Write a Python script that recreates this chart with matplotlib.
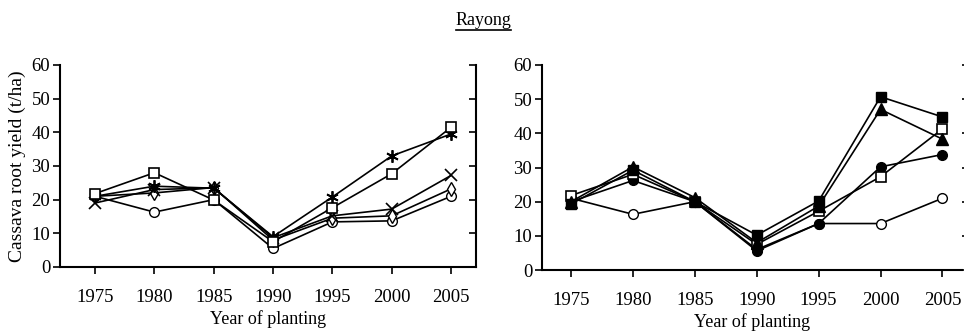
import numpy as np
import matplotlib
matplotlib.use('Agg')
import matplotlib.pyplot as plt

plt.rcParams['font.family'] = ['Liberation Serif', 'DejaVu Serif']

years = [1975, 1980, 1985, 1990, 1995, 2000, 2005]

# left panel
left_circle = [21, 16.3, 20, 5.5, 13.4, 13.7, 21]
left_square = [21.8, 28, 19.9, 7.5, 17.6, 27.7, 41.5]
left_star = [21, 24, 23.4, 9, 20.8, 33, 39.5]
left_x = [19, 23, 23.5, 8.7, 15.2, 17.2, 27.2]
left_diamond = [21, 22, 23.6, 8, 14.5, 15.2, 23.2]

# right panel
right_circle = [21, 16.3, 20, 6, 13.6, 13.6, 21]
right_square = [21.8, 28, 20, 7.5, 17.2, 27.3, 41.3]
right_fsquare = [19.3, 29.2, 20, 10.2, 20.2, 50.7, 44.8]
right_triangle = [20, 30.2, 21.2, 8, 18.7, 47, 38.3]
right_fcircle = [20, 26.2, 20, 5.6, 13.6, 30.2, 33.8]

fig = plt.figure(figsize=(9.64, 3.35), dpi=100)
ax1 = fig.add_axes([0.0622, 0.203, 0.4316, 0.603])
ax2 = fig.add_axes([0.5622, 0.194, 0.436, 0.612])

lw = 1.2
ms = 7

ax1.plot(years, left_circle, color='k', lw=lw, marker='o', ms=ms, mfc='white', mec='k', mew=1)
ax1.plot(years, left_diamond, color='k', lw=lw, marker='d', ms=ms, mfc='white', mec='k', mew=1)
ax1.plot(years, left_x, color='k', lw=lw, marker='x', ms=ms + 1, mec='k', mew=1.2)
ax1.plot(years, left_star, color='k', lw=lw, marker=(6, 2, 0), ms=ms + 2, mec='k', mew=1.3)
ax1.plot(years, left_square, color='k', lw=lw, marker='s', ms=ms, mfc='white', mec='k', mew=1.2)

ax2.plot(years, right_circle, color='k', lw=lw, marker='o', ms=ms, mfc='white', mec='k', mew=1)
ax2.plot(years, right_fcircle, color='k', lw=lw, marker='o', ms=ms, mfc='k', mec='k')
ax2.plot(years, right_square, color='k', lw=lw, marker='s', ms=ms, mfc='white', mec='k', mew=1.2)
ax2.plot(years, right_triangle, color='k', lw=lw, marker='^', ms=ms + 1, mfc='k', mec='k')
ax2.plot(years, right_fsquare, color='k', lw=lw, marker='s', ms=ms, mfc='k', mec='k')

ax1.set_xlim(1972.05, 2007.1)
ax2.set_xlim(1972.65, 2006.6)

for ax in (ax1, ax2):
    ax.set_ylim(0, 60)
    ax.set_yticks(np.arange(0, 61, 10))
    ax.set_xticks(years)
    ax.spines['top'].set_visible(False)
    for s in ('left', 'bottom', 'right'):
        ax.spines[s].set_linewidth(1.5)
    ax.tick_params(axis='both', which='both', direction='out', length=5, width=1.2,
                   labelsize=13.5, pad=2)
    ax.tick_params(axis='x', pad=11)
    ax.set_xlabel('Year of planting', fontsize=13, labelpad=3)

ax1.tick_params(axis='y', right=True, labelright=False)
for t in ax1.yaxis.get_ticklines()[1::2]:
    t.set_marker(0)
ax2.spines['right'].set_visible(False)
ax2.tick_params(axis='y', right=True, labelright=False)

ax1.set_ylabel('Cassava root yield (t/ha)', fontsize=14, labelpad=4)

fig.text(0.501, 0.94, 'Rayong', ha='center', va='center', fontsize=13)
fig.add_artist(plt.Line2D([0.473, 0.530], [0.91, 0.91], color='k', lw=1.2, transform=fig.transFigure))

fig.savefig('out.png', dpi=100)
